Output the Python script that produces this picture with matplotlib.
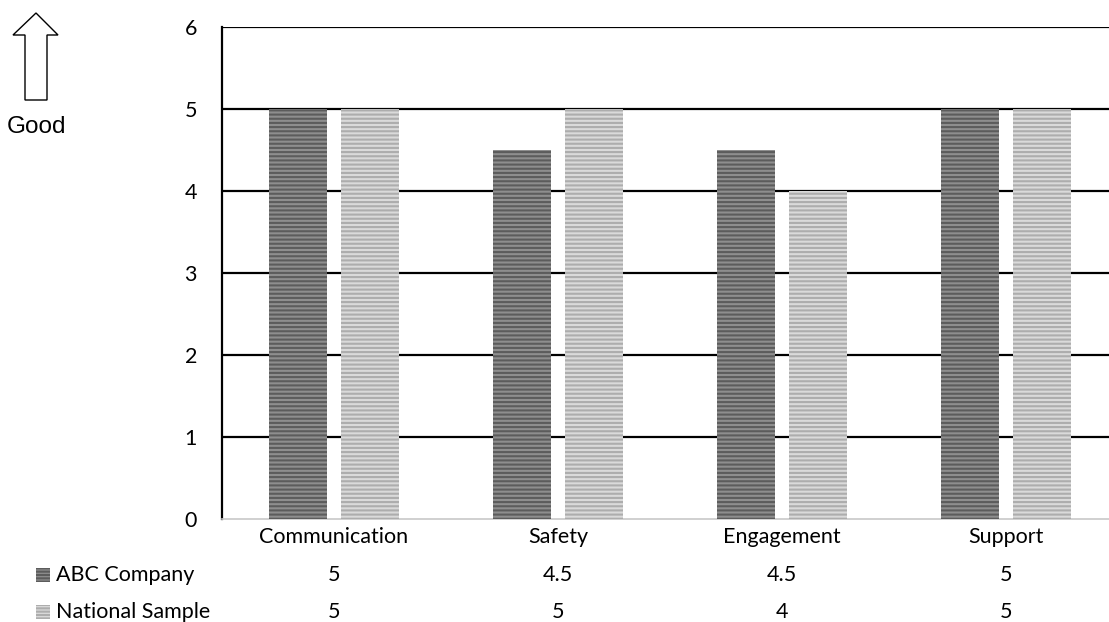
import matplotlib
matplotlib.use("Agg")
import matplotlib.pyplot as plt
import numpy as np
from matplotlib.patches import Polygon

categories = ["Communication", "Safety", "Engagement", "Support"]
abc_company = [5, 4.5, 4.5, 5]
national_sample = [5, 5, 4, 5]
series_names = ["ABC Company", "National Sample"]
y_ticks = [0, 1, 2, 3, 4, 5, 6]

W, H = 1109, 622
plt.rcParams["font.family"] = ["Lato", "DejaVu Sans"]
plt.rcParams["hatch.linewidth"] = 1.5

fig = plt.figure(figsize=(W / 100, H / 100), dpi=100)

# plot area in pixels: left 222, top 27 (6), bottom 519 (0), right clipped past edge
left, right, top, bottom = 222, 1118, 27, 519
ax = fig.add_axes([left / W, 1 - bottom / H, (right - left) / W, (bottom - top) / H])

x = np.arange(len(categories))
bw = 0.26
ax.bar(x - 0.16, abc_company, bw, color="#8e8e8e", edgecolor="#5c5c5c",
       hatch="----", linewidth=0, zorder=3)
ax.bar(x + 0.16, national_sample, bw, color="#dadada", edgecolor="#adadad",
       hatch="----", linewidth=0, zorder=3)

ax.set_xlim(-0.5, len(categories) - 0.5)
ax.set_ylim(0, 6)
ax.set_yticks(y_ticks)
ax.tick_params(axis="y", length=0, pad=18, labelsize=15.5)
ax.set_xticks([])
for yv in y_ticks[1:]:
    ax.axhline(yv, color="black", linewidth=1.6, zorder=2)
ax.spines["left"].set_color("black")
ax.spines["left"].set_linewidth(1.6)
ax.spines["bottom"].set_color("#c8c8c8")
ax.spines["bottom"].set_linewidth(1.2)
ax.spines["top"].set_visible(False)
ax.spines["right"].set_visible(False)

# data table under the plot
fs = 15.5
row_y = [537, 575, 612]
for i, c in enumerate(categories):
    xp = ax.transData.transform((i, 0))[0] / W
    fig.text(xp, 1 - row_y[0] / H, c, ha="center", va="center", fontsize=fs)
    fig.text(xp, 1 - row_y[1] / H, f"{abc_company[i]:g}", ha="center", va="center", fontsize=fs)
    fig.text(xp, 1 - row_y[2] / H, f"{national_sample[i]:g}", ha="center", va="center", fontsize=fs)

# legend keys in the table rows
for name, ry, col, hc in [(series_names[0], row_y[1], "#8e8e8e", "#5c5c5c"),
                          (series_names[1], row_y[2], "#dadada", "#adadad")]:
    key = fig.add_axes([36 / W, 1 - (ry + 7) / H, 14 / W, 14 / H])
    key.bar([0], [1], 1, color=col, edgecolor=hc, hatch="-----", linewidth=0)
    key.set_xlim(-0.5, 0.5)
    key.set_ylim(0, 1)
    key.axis("off")
    fig.text(56 / W, 1 - ry / H, name, ha="left", va="center", fontsize=fs)

# "Good" arrow
pts = [(36, 13), (58, 35), (47, 35), (47, 100), (25, 100), (25, 35), (13, 35)]
arrow = Polygon([(px / W, 1 - py / H) for px, py in pts], closed=True,
                facecolor="white", edgecolor="black", linewidth=1,
                transform=fig.transFigure)
fig.patches.append(arrow)
fig.text(37 / W, 1 - 127 / H, "Good", ha="center", va="center", fontsize=17.5,
         family=["Liberation Sans Narrow", "Liberation Sans", "DejaVu Sans"])

fig.savefig("out.png", dpi=100)
